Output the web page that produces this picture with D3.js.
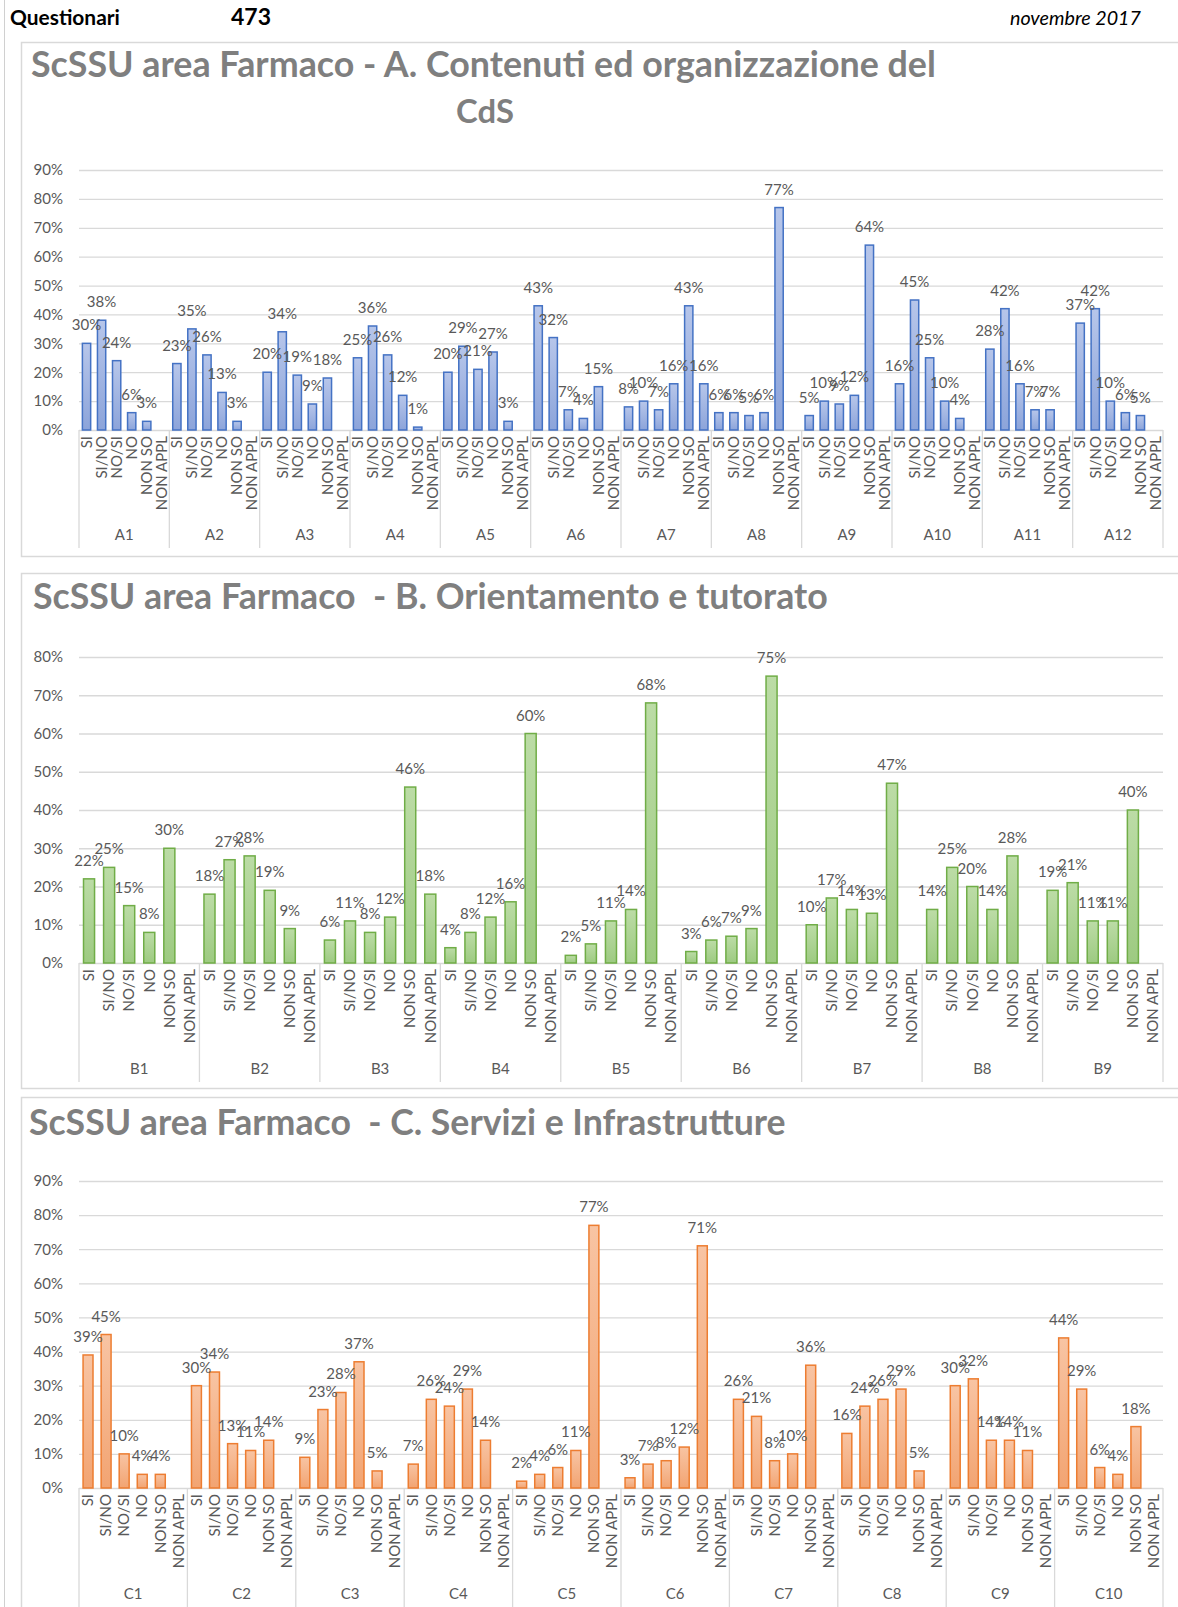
<!DOCTYPE html>
<html>
<head>
<meta charset="utf-8">
<script src="https://cdn.jsdelivr.net/npm/d3@7/dist/d3.min.js"></script>
<style>
	body { margin: 0; background: #fff; }
	svg text { font-family: Lato, "Open Sans", sans-serif; }
</style>
</head>
<body>
<svg id="page" width="1178" height="1607"></svg>
<script>
(function() {
	"use strict"

	// data (percent of answers)
	var categories = ["SI", "SI/NO", "NO/SI", "NO", "NON SO", "NON APPL"];

	var groupsA = ["A1", "A2", "A3", "A4", "A5", "A6", "A7", "A8", "A9", "A10", "A11", "A12"];
	var valuesA = [
		[30, 38, 24, 6, 3, null],
		[23, 35, 26, 13, 3, null],
		[20, 34, 19, 9, 18, null],
		[25, 36, 26, 12, 1, null],
		[20, 29, 21, 27, 3, null],
		[43, 32, 7, 4, 15, null],
		[8, 10, 7, 16, 43, 16],
		[6, 6, 5, 6, 77, null],
		[5, 10, 9, 12, 64, null],
		[16, 45, 25, 10, 4, null],
		[28, 42, 16, 7, 7, null],
		[37, 42, 10, 6, 5, null]
	];

	var groupsB = ["B1", "B2", "B3", "B4", "B5", "B6", "B7", "B8", "B9"];
	var valuesB = [
		[22, 25, 15, 8, 30, null],
		[18, 27, 28, 19, 9, null],
		[6, 11, 8, 12, 46, 18],
		[4, 8, 12, 16, 60, null],
		[2, 5, 11, 14, 68, null],
		[3, 6, 7, 9, 75, null],
		[10, 17, 14, 13, 47, null],
		[14, 25, 20, 14, 28, null],
		[19, 21, 11, 11, 40, null]
	];

	var groupsC = ["C1", "C2", "C3", "C4", "C5", "C6", "C7", "C8", "C9", "C10"];
	var valuesC = [
		[39, 45, 10, 4, 4, null],
		[30, 34, 13, 11, 14, null],
		[9, 23, 28, 37, 5, null],
		[7, 26, 24, 29, 14, null],
		[2, 4, 6, 11, 77, null],
		[3, 7, 8, 12, 71, null],
		[26, 21, 8, 10, 36, null],
		[16, 24, 26, 29, 5, null],
		[30, 32, 14, 14, 11, null],
		[44, 29, 6, 4, 18, null]
	];

	var yTicksA = [0, 10, 20, 30, 40, 50, 60, 70, 80, 90];
	var yTicksB = [0, 10, 20, 30, 40, 50, 60, 70, 80];
	var yTicksC = [0, 10, 20, 30, 40, 50, 60, 70, 80, 90];

	var svg = d3.select("#page"),
		textColor = "#595959",
		gridColor = "#d9d9d9",
		plotLeft = 79,
		plotRight = 1163;

	// gradients for the bar fills
	var defs = svg.append("defs");
	function gradient(id, top, bottom) {
		var g = defs.append("linearGradient").attr("id", id)
			.attr("x1", 0).attr("y1", 0).attr("x2", 0).attr("y2", 1);
		g.append("stop").attr("offset", "0%").attr("stop-color", top);
		g.append("stop").attr("offset", "100%").attr("stop-color", bottom);
	}
	gradient("gradBlue", "#b7c6ea", "#8ca4da");
	gradient("gradGreen", "#bcdca6", "#9dca81");
	gradient("gradOrange", "#f8c4a3", "#f2a472");

	// shrink / grow a text so it spans the given width
	function fitText(sel, width) {
		var size = parseFloat(sel.style("font-size")),
			len = sel.node().getComputedTextLength();
		sel.style("font-size", (size * width / len) + "px");
	}

	// page frame + header
	svg.append("line")
		.attr("x1", 4.5).attr("x2", 4.5).attr("y1", 0).attr("y2", 1607)
		.style("stroke", "#d0d0d0");

	var hq = svg.append("text").attr("x", 10).attr("y", 25)
		.style("font-weight", "bold").style("font-size", "19px").style("fill", "#000")
		.text("Questionari");
	fitText(hq, 110);
	var hn = svg.append("text").attr("x", 231).attr("y", 25)
		.style("font-weight", "bold").style("font-size", "21px").style("fill", "#000")
		.text("473");
	fitText(hn, 40);
	var hd = svg.append("text").attr("x", 1010).attr("y", 25)
		.style("font-style", "italic").style("font-size", "18px").style("fill", "#000")
		.text("novembre 2017");
	fitText(hd, 131);

	function drawChart(cfg) {
		var g = svg.append("g");

		g.append("rect")
			.attr("x", 21.5).attr("y", cfg.boxTop + 0.5)
			.attr("width", 1170).attr("height", cfg.boxBottom - cfg.boxTop)
			.style("fill", "none").style("stroke", gridColor).style("stroke-width", 1.5);

		cfg.titles.forEach(function(t) {
			var tt = g.append("text")
				.attr("x", t.x).attr("y", t.y)
				.attr("text-anchor", t.anchor || "start")
				.style("white-space", "pre")
				.style("font-weight", "bold").style("font-size", "30px").style("fill", "#7f7f7f")
				.text(t.text);
			fitText(tt, t.width);
		});

		var x0 = d3.scaleBand().domain(cfg.groups).range([plotLeft, plotRight]),
			x1 = d3.scaleBand().domain(categories).range([0, x0.bandwidth()])
				.paddingInner(0.45).paddingOuter(0.225),
			yMax = cfg.yTicks[cfg.yTicks.length - 1],
			y = d3.scaleLinear().domain([0, yMax]).range([cfg.yZero, cfg.yTop]);

		// gridlines
		g.append("g")
			.attr("transform", "translate(" + plotLeft + ",0)")
			.call(d3.axisLeft(y).tickValues(cfg.yTicks).tickSize(-(plotRight - plotLeft)).tickFormat(""))
			.call(function(a) {
				a.select(".domain").remove();
				a.selectAll("line").style("stroke", gridColor).style("stroke-width", 1.3);
			});

		// y axis labels
		g.append("g")
			.attr("transform", "translate(" + plotLeft + ",0)")
			.call(d3.axisLeft(y).tickValues(cfg.yTicks).tickSize(0).tickPadding(16)
				.tickFormat(function(d) { return d + "%"; }))
			.call(function(a) {
				a.select(".domain").remove();
				a.selectAll("text")
					.style("font-family", "Lato, sans-serif").style("font-size", "15px")
					.style("fill", textColor);
			});

		// bars
		var group = g.selectAll(".grp")
			.data(cfg.groups)
			.enter()
			.append("g")
				.attr("class", "grp")
				.attr("transform", function(d) {
					return "translate(" + x0(d) + ",0)";
				});

		function rows(d, i) {
			return categories.map(function(c, j) {
				return { cat: c, value: cfg.values[i][j] };
			}).filter(function(d) { return d.value !== null; });
		}

		group.selectAll("rect")
			.data(rows)
			.enter()
			.append("rect")
				.attr("x", function(d) { return x1(d.cat); })
				.attr("width", x1.bandwidth())
				.attr("y", function(d) { return y(d.value); })
				.attr("height", function(d) { return cfg.yZero - y(d.value); })
				.style("fill", "url(#" + cfg.fill + ")")
				.style("stroke", cfg.stroke)
				.style("stroke-width", 1.5);

		group.selectAll(".lbl")
			.data(rows)
			.enter()
			.append("text")
				.attr("class", "lbl")
				.attr("x", function(d) { return x1(d.cat) + x1.bandwidth() / 2; })
				.attr("y", function(d) { return y(d.value) - 13; })
				.attr("text-anchor", "middle")
				.style("font-size", "15px")
				.style("fill", textColor)
				.text(function(d) { return d.value + "%"; });

		// category labels under each group
		group.append("g")
			.attr("transform", "translate(0," + cfg.yZero + ")")
			.call(d3.axisBottom(x1).tickSize(0))
			.call(function(a) {
				a.select(".domain").remove();
				a.selectAll("text")
					.attr("transform", "rotate(-90)")
					.attr("x", -6).attr("y", 0).attr("dy", "0.35em")
					.style("text-anchor", "end")
					.style("font-family", "Lato, sans-serif").style("font-size", "15px")
					.style("fill", textColor);
			});

		// group labels
		g.append("g")
			.attr("transform", "translate(0," + cfg.groupLabelY + ")")
			.call(d3.axisBottom(x0).tickSize(0).tickPadding(0))
			.call(function(a) {
				a.select(".domain").remove();
				a.selectAll("text")
					.attr("dy", "0.35em")
					.style("font-family", "Lato, sans-serif").style("font-size", "15px")
					.style("fill", textColor);
			});

		// separators between groups
		var edges = cfg.groups.map(function(d) { return x0(d); }).concat([plotRight]);
		g.selectAll(".sep")
			.data(edges)
			.enter()
			.append("line")
				.attr("x1", function(d) { return d; })
				.attr("x2", function(d) { return d; })
				.attr("y1", cfg.yZero)
				.attr("y2", cfg.sepBottom)
				.style("stroke", gridColor)
				.style("stroke-width", 1.3);
	}

	drawChart({
		groups: groupsA, values: valuesA, yTicks: yTicksA,
		boxTop: 42, boxBottom: 556, yTop: 170, yZero: 430,
		groupLabelY: 535, sepBottom: 548,
		fill: "gradBlue", stroke: "#4472c4",
		titles: [
			{ text: "ScSSU area Farmaco - A. Contenuti ed organizzazione del", x: 31, y: 77, width: 905 },
			{ text: "CdS", x: 485, y: 123, anchor: "middle", width: 58 }
		]
	});

	drawChart({
		groups: groupsB, values: valuesB, yTicks: yTicksB,
		boxTop: 573, boxBottom: 1088, yTop: 657, yZero: 963,
		groupLabelY: 1069, sepBottom: 1082,
		fill: "gradGreen", stroke: "#70ad47",
		titles: [
			{ text: "ScSSU area Farmaco  - B. Orientamento e tutorato", x: 33, y: 609, width: 795 }
		]
	});

	drawChart({
		groups: groupsC, values: valuesC, yTicks: yTicksC,
		boxTop: 1097, boxBottom: 1615, yTop: 1181, yZero: 1488,
		groupLabelY: 1594, sepBottom: 1607,
		fill: "gradOrange", stroke: "#ed7d31",
		titles: [
			{ text: "ScSSU area Farmaco  - C. Servizi e Infrastrutture", x: 29, y: 1135, width: 757 }
		]
	});
})();
</script>
</body>
</html>
